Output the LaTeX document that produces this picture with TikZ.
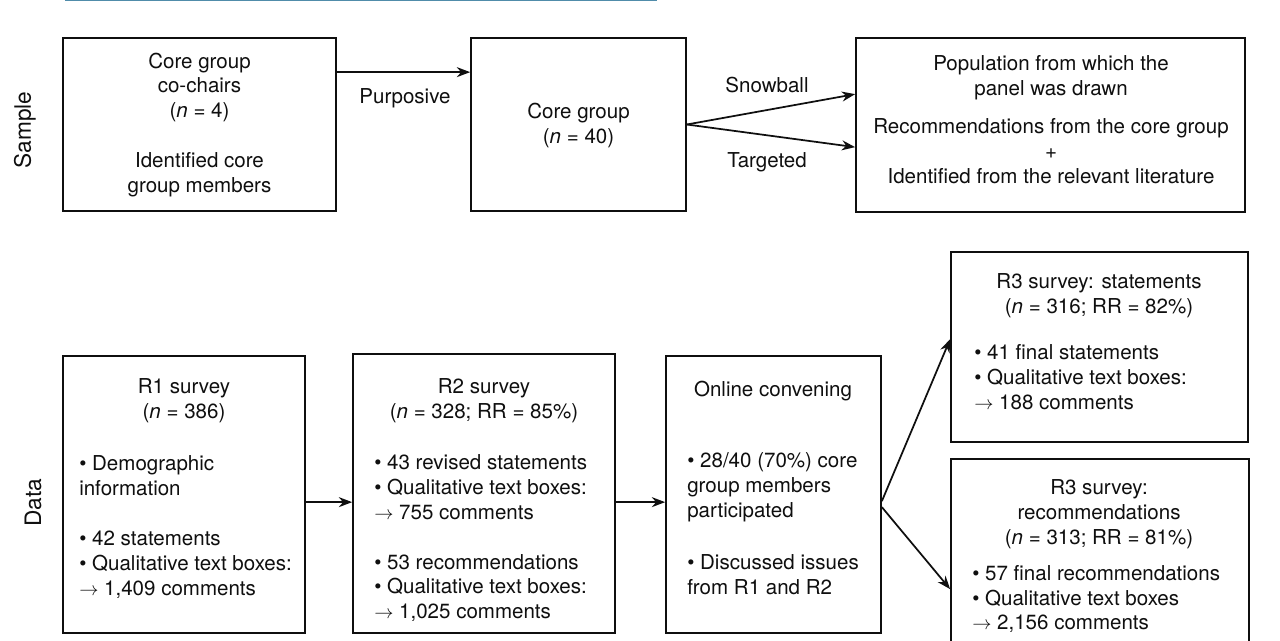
\documentclass[tikz,border=0pt]{standalone}
\usepackage{fontspec}
\setmainfont{TeX Gyre Heros}
\usetikzlibrary{arrows.meta,calc,fit}
\definecolor{linkblue}{RGB}{80,140,170}
\definecolor{ink}{RGB}{15,15,15}
\newcommand{\bul}{\textbullet}
\begin{document}
\begin{tikzpicture}[x=0.75pt,y=-0.75pt,
  box/.style={draw=ink, line width=1.3pt, inner sep=0pt},
  txt/.style={font=\fontsize{15.4}{18.6}\selectfont, text=ink, inner sep=0pt, align=center},
  ltxt/.style={txt, align=left, anchor=west},
  side/.style={font=\fontsize{17}{20}\selectfont, text=ink, inner sep=0pt, rotate=90},
  arr/.style={draw=ink, line width=1.3pt, -{Stealth[length=10pt,width=7.5pt]}}]
\useasboundingbox (0,0) rectangle (1280,640);
\clip (0,0) rectangle (1280,640);
\fill[white] (0,0) rectangle (1280,640);

% cropped link underline at top
\draw[linkblue, line width=0.7pt] (65,0.8) -- (657,0.8);

% side labels
\node[side] (lsample) at (25,130) {Sample};
\node[side] (ldata) at (33,503) {Data};

% ---------- Sample row ----------
\node[box, fit={(63,38) (336,211)}] (A) {};
\node[box, fit={(471,38) (686,211)}] (B) {};
\node[box, fit={(856,38) (1245,212)}] (C) {};

\node[txt] (a1) at (199.5,87.5) {Core group\\co-chairs\\(\textit{n} = 4)};
\node[txt] (a2) at (199.5,175) {Identified core\\group members};
\node[txt] (b1) at (578.5,125.5) {Core group\\(\textit{n} = 40)};
\node[txt] (c1) at (1051,78) {Population from which the\\panel was drawn};
\node[txt] (c2) at (1051,151) {Recommendations from the core group\\+\\Identified from the relevant literature};

\coordinate (ab1) at ($(A.north east)+(0,35)$);
\coordinate (ab2) at ($(B.north west)+(0,35)$);
\draw[arr] (ab1) -- (ab2);
\node[txt] (lpurp) at (405,98) {Purposive};
\coordinate (cs) at ($(C.north west)+(0,57)$);
\coordinate (ct) at ($(C.north west)+(0,110)$);
\draw[arr] (B.east) -- (cs);
\draw[arr] (B.east) -- (ct);
\node[txt] (lsnow) at (767,85) {Snowball};
\node[txt] (ltarg) at (767,162) {Targeted};

% ---------- Data row ----------
\node[box, fit={(63,356) (305,633)}] (R1) {};
\node[box, fit={(353,354) (615,633)}] (R2) {};
\node[box, fit={(666,356) (881,633)}] (ON) {};
\node[box, fit={(951,252) (1248,442)}] (R3a) {};
\node[box, fit={(951,459) (1249,648)}] (R3b) {};

% R1
\node[txt] (r1t) at (184,401) {R1 survey\\(\textit{n} = 386)};
\node[ltxt] (r1a) at (79,476) {\bul{} Demographic\\information};
\node[ltxt] (r1b) at (79,565) {\bul{} 42 statements\\\bul{} Qualitative text boxes:\\$\rightarrow$ 1,409 comments};

% R2
\node[txt] (r2t) at (484,401) {R2 survey\\(\textit{n} = 328; RR = 85\%)};
\node[ltxt] (r2a) at (374,487) {\bul{} 43 revised statements\\\bul{} Qualitative text boxes:\\$\rightarrow$ 755 comments};
\node[ltxt] (r2b) at (374,588) {\bul{} 53 recommendations\\\bul{} Qualitative text boxes:\\$\rightarrow$ 1,025 comments};

% Online convening
\node[txt] (ont) at (773,391) {Online convening};
\node[ltxt] (ona) at (687,487) {\bul{} 28/40 (70\%) core\\group members\\participated};
\node[ltxt] (onb) at (687,574.5) {\bul{} Discussed issues\\from R1 and R2};

% R3 statements
\node[txt] (r3at) at (1099,295.5) {R3 survey: statements\\(\textit{n} = 316; RR = 82\%)};
\node[ltxt] (r3aa) at (974,377) {\bul{} 41 final statements\\\bul{} Qualitative text boxes:\\$\rightarrow$ 188 comments};

% R3 recommendations
\node[txt] (r3bt) at (1099,514) {R3 survey:\\recommendations\\(\textit{n} = 313; RR = 81\%)};
\node[ltxt] (r3ba) at (972,599) {\bul{} 57 final recommendations\\\bul{} Qualitative text boxes\\$\rightarrow$ 2,156 comments};

% connectors
\coordinate (s12) at ($(R1.north east)+(0,147)$);
\coordinate (s23) at ($(R2.north east)+(0,149)$);
\coordinate (s3a) at ($(ON.north east)+(0,146)$);
\coordinate (s3b) at ($(ON.north east)+(0,152)$);
\coordinate (e3a) at ($(R3a.north west)+(0,88)$);
\coordinate (e3b) at ($(R3b.north west)+(0,131)$);
\draw[arr] (s12) -- (s12 -| R2.west);
\draw[arr] (s23) -- (s23 -| ON.west);
\draw[arr] (s3a) -- (e3a);
\draw[arr] (s3b) -- (e3b);
\end{tikzpicture}
\end{document}
